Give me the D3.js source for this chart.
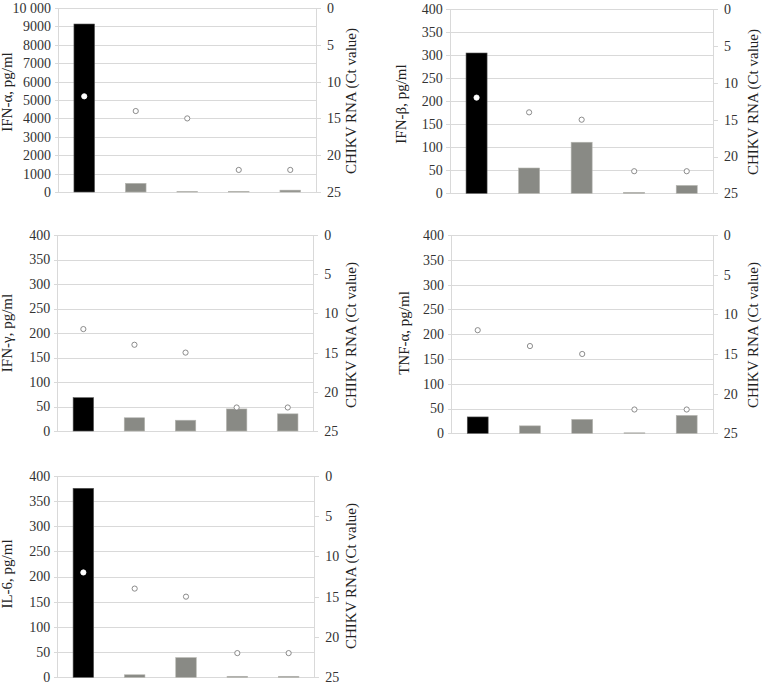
<!DOCTYPE html>
<html><head><meta charset="utf-8">
<script src="https://cdn.jsdelivr.net/npm/d3@7"></script>
<style>
html,body{margin:0;padding:0;background:#fff;}
svg{display:block;}
</style></head>
<body>
<svg id="chart" width="763" height="685"></svg>
<script>
// ---------- DATA ----------
const categories = ["1", "2", "3", "4", "5"];
const ctValues = [12.0, 14.0, 15.0, 22.0, 22.0];
const ifnAlpha = [9130, 470, 20, 35, 100];
const ifnBeta = [305, 55, 111, 2, 17];
const ifnGamma = [68, 27, 22, 45, 35];
const tnfAlpha = [33, 15, 28, 1, 36];
const il6 = [375, 5, 39, 2, 2];
const leftTicksAlpha = [0, 1000, 2000, 3000, 4000, 5000, 6000, 7000, 8000, 9000, 10000];
const leftTicks400 = [0, 50, 100, 150, 200, 250, 300, 350, 400];
const ctTicks = [0, 5, 10, 15, 20, 25];
const leftTitles = ["IFN-α, pg/ml", "IFN-β, pg/ml", "IFN-γ, pg/ml", "TNF-α, pg/ml", "IL-6, pg/ml"];
const rightTitle = "CHIKV RNA (Ct value)";

// ---------- LAYOUT ----------
const panels = [
  {vals: ifnAlpha, ticks: leftTicksAlpha, title: leftTitles[0], x0: 58.5, x1: 316, y0: 8, y1: 192, ltx: 9, lty: 92, rtx: 353, rty: 101},
  {vals: ifnBeta, ticks: leftTicks400, title: leftTitles[1], x0: 450.3, x1: 713, y0: 9.3, y1: 193.3, ltx: 403, lty: 104, rtx: 755, rty: 102},
  {vals: ifnGamma, ticks: leftTicks400, title: leftTitles[2], x0: 57.8, x1: 313.3, y0: 235, y1: 431, ltx: 9, lty: 333, rtx: 353, rty: 335},
  {vals: tnfAlpha, ticks: leftTicks400, title: leftTitles[3], x0: 451.6, x1: 712.8, y0: 235, y1: 433.3, ltx: 406, lty: 333, rtx: 755, rty: 335},
  {vals: il6, ticks: leftTicks400, title: leftTitles[4], x0: 57.7, x1: 314.3, y0: 475.7, y1: 677.3, ltx: 9, lty: 574, rtx: 353, rty: 576}
];

const FONT = "Liberation Serif";
const gridColor = "#d9d9d9";
const textColor = "#333";
const barGray = "#898a85";
const svg = d3.select("#chart");

const fmt = d => d >= 10000 ? d3.format(",")(d).replace(",", " ") : String(d);

panels.forEach(p => {
  const g = svg.append("g");
  const x = d3.scaleBand().domain(categories).range([p.x0, p.x1]).paddingInner(0.6).paddingOuter(0.3);
  const yMax = p.ticks[p.ticks.length - 1];
  const y = d3.scaleLinear().domain([0, yMax]).range([p.y1, p.y0]);
  const yCt = d3.scaleLinear().domain([0, 25]).range([p.y0, p.y1]);

  // gridlines via left axis
  const leftAxis = d3.axisLeft(y).tickValues(p.ticks).tickSize(4).tickFormat(fmt).tickPadding(4);
  const la = g.append("g").attr("transform", `translate(${p.x0},0)`).call(leftAxis);
  la.attr("font-family", FONT).attr("font-size", 14);
  la.select(".domain").remove();
  la.selectAll(".tick line").attr("stroke", gridColor).attr("x1", -4).attr("x2", p.x1 - p.x0).attr("shape-rendering", "crispEdges");
  la.selectAll(".tick text").attr("x", -7.5).attr("fill", textColor).attr("font-family", FONT).attr("font-size", 14);

  // left axis line
  g.append("line").attr("x1", p.x0).attr("x2", p.x0).attr("y1", p.y0).attr("y2", p.y1)
    .attr("stroke", gridColor).attr("shape-rendering", "crispEdges");

  // right axis
  const rightAxis = d3.axisRight(yCt).tickValues(ctTicks).tickSize(5).tickPadding(6);
  const ra = g.append("g").attr("transform", `translate(${p.x1},0)`).call(rightAxis);
  ra.attr("font-family", FONT).attr("font-size", 14);
  ra.select(".domain").attr("stroke", gridColor).attr("d", `M0.5,${p.y0}V${p.y1}`).attr("shape-rendering", "crispEdges");
  ra.selectAll(".tick line").attr("stroke", gridColor).attr("shape-rendering", "crispEdges");
  ra.selectAll(".tick text").attr("fill", textColor).attr("font-family", FONT).attr("font-size", 14);

  // bars
  g.selectAll("rect.bar").data(p.vals).enter().append("rect")
    .attr("class", "bar")
    .attr("x", (d, i) => x(categories[i]))
    .attr("width", x.bandwidth())
    .attr("y", d => y(d))
    .attr("height", d => Math.max(0, y(0) - y(d)))
    .attr("fill", (d, i) => i === 0 ? "#000" : barGray)
    .attr("stroke", (d, i) => i === 0 ? "#555" : "#b5b5b0")
    .attr("stroke-width", 0.6);

  // Ct dots
  g.selectAll("circle.ct").data(ctValues).enter().append("circle")
    .attr("class", "ct")
    .attr("cx", (d, i) => x(categories[i]) + x.bandwidth() / 2)
    .attr("cy", d => yCt(d))
    .attr("r", 2.6)
    .attr("fill", "#fff")
    .attr("stroke", (d, i) => (i === 0 && y(p.vals[0]) < yCt(d)) ? "#fff" : "#7f7f7f")
    .attr("stroke-width", 0.9);

  // titles
  g.append("text").text(p.title)
    .attr("transform", `translate(${p.ltx},${p.lty}) rotate(-90)`)
    .attr("text-anchor", "middle").attr("dominant-baseline", "middle")
    .attr("fill", "#222").attr("font-family", FONT).attr("font-size", 15);
  g.append("text").text(rightTitle)
    .attr("transform", `translate(${p.rtx},${p.rty}) rotate(-90)`)
    .attr("text-anchor", "middle").attr("dominant-baseline", "middle")
    .attr("fill", "#222").attr("font-family", FONT).attr("font-size", 15);
});
</script>
</body></html>
